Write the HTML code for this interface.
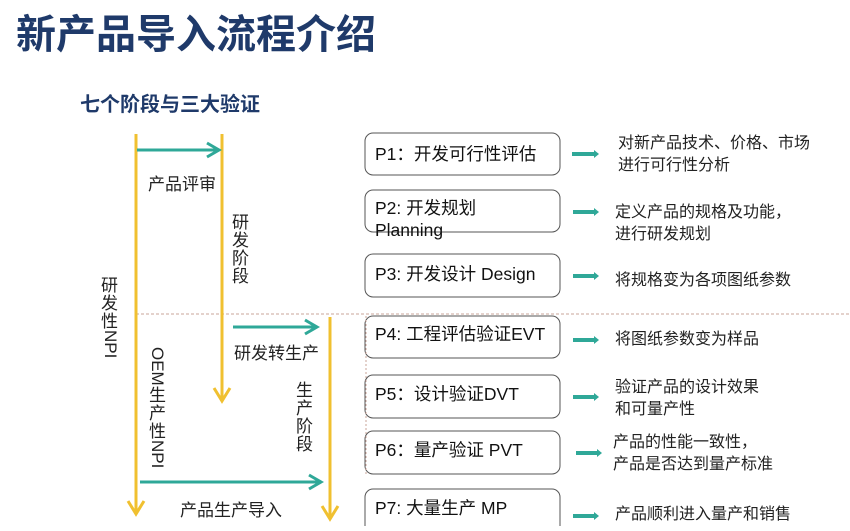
<!DOCTYPE html>
<html><head><meta charset="utf-8"><style>
body{margin:0;background:#fff;width:850px;height:526px;overflow:hidden;font-family:"Liberation Sans","Noto Sans CJK SC",sans-serif;}
svg text{font-family:"Liberation Sans","Noto Sans CJK SC",sans-serif;}
</style></head><body>
<svg width="850" height="526" viewBox="0 0 850 526" xmlns="http://www.w3.org/2000/svg">
<text x="16" y="48" font-size="40" font-weight="bold" fill="#1f3a6a">新产品导入流程介绍</text>
<text x="80" y="111" font-size="20" font-weight="bold" fill="#1f3a6a">七个阶段与三大验证</text>
<line x1="136" y1="314" x2="850" y2="314" stroke="#c9a49a" stroke-width="1" stroke-dasharray="3,2"/>
<g stroke="#f0c030" stroke-width="3" fill="none">
<line x1="136" y1="134" x2="136" y2="514"/><path d="M128,501 L136,514 L144,501"/>
<line x1="222" y1="134" x2="222" y2="401"/><path d="M214,388 L222,401 L230,388"/>
<line x1="330" y1="317" x2="330" y2="519"/><path d="M322,506 L330,519 L338,506"/>
</g>
<g stroke="#2fa898" stroke-width="3" fill="none">
<line x1="137" y1="150" x2="218" y2="150"/><path d="M207,143 L219,150 L207,157"/>
<line x1="233" y1="327" x2="316" y2="327"/><path d="M305,320 L317,327 L305,334"/>
<line x1="140" y1="482" x2="320" y2="482"/><path d="M309,475 L321,482 L309,489"/>
</g>
<g font-size="17" fill="#222">
<text x="148" y="190">产品评审</text>
<text x="234" y="359">研发转生产</text>
<text x="180" y="516">产品生产导入</text>
<text x="232" y="228">研</text><text x="232" y="246">发</text><text x="232" y="264">阶</text><text x="232" y="282">段</text>
<text x="296" y="396">生</text><text x="296" y="414">产</text><text x="296" y="432">阶</text><text x="296" y="450">段</text>
<text x="101" y="291">研</text><text x="101" y="309">发</text><text x="101" y="327">性</text>
<text transform="translate(105,330) rotate(90)">NPI</text>
<text transform="translate(152,347) rotate(90)">OEM</text>
<text x="149" y="401">生</text><text x="149" y="419">产</text><text x="149" y="437">性</text>
<text transform="translate(152,440) rotate(90)">NPI</text>
</g>
<g fill="#fff" stroke="#555" stroke-width="1">
<rect x="365" y="133" width="195" height="42" rx="8"/>
<rect x="365" y="190" width="195" height="42" rx="8"/>
<rect x="365" y="254" width="195" height="43" rx="8"/>
<rect x="365" y="316" width="195" height="42" rx="8"/>
<rect x="365" y="375" width="195" height="43" rx="8"/>
<rect x="365" y="431" width="195" height="43" rx="8"/>
<rect x="365" y="489" width="195" height="45" rx="8"/>
</g>
<line x1="366" y1="316" x2="366" y2="474" stroke="#c9a49a" stroke-dasharray="2,2"/>
<g font-size="17.5" fill="#111">
<text x="375" y="160">P1：开发可行性评估</text>
<text x="375" y="214">P2: 开发规划</text>
<text x="375" y="236">Planning</text>
<text x="375" y="280">P3: 开发设计 Design</text>
<text x="375" y="340">P4: 工程评估验证EVT</text>
<text x="375" y="400">P5：设计验证DVT</text>
<text x="375" y="456">P6：量产验证 PVT</text>
<text x="375" y="514">P7:  大量生产 MP</text>
</g>
<g stroke="#2fa898" stroke-width="4">
<line x1="572" y1="154" x2="594" y2="154"/>
<line x1="573" y1="212" x2="594" y2="212"/>
<line x1="573" y1="276" x2="594" y2="276"/>
<line x1="573" y1="340" x2="594" y2="340"/>
<line x1="573" y1="397" x2="594" y2="397"/>
<line x1="576" y1="453" x2="597" y2="453"/>
<line x1="573" y1="516" x2="594" y2="516"/>
</g>
<g fill="#2fa898">
<path d="M594,150 L599,154 L594,158Z"/><path d="M594,208 L599,212 L594,216Z"/><path d="M594,272 L599,276 L594,280Z"/>
<path d="M594,336 L599,340 L594,344Z"/><path d="M594,393 L599,397 L594,401Z"/><path d="M597,449 L602,453 L597,457Z"/><path d="M594,512 L599,516 L594,520Z"/>
</g>
<g font-size="16" fill="#222">
<text x="618" y="148">对新产品技术、价格、市场</text>
<text x="618" y="170">进行可行性分析</text>
<text x="615" y="217">定义产品的规格及功能，</text>
<text x="615" y="239">进行研发规划</text>
<text x="615" y="285">将规格变为各项图纸参数</text>
<text x="615" y="344">将图纸参数变为样品</text>
<text x="615" y="392">验证产品的设计效果</text>
<text x="615" y="414">和可量产性</text>
<text x="613" y="447">产品的性能一致性，</text>
<text x="613" y="469">产品是否达到量产标准</text>
<text x="615" y="519">产品顺利进入量产和销售</text>
</g>
</svg>
</body></html>
